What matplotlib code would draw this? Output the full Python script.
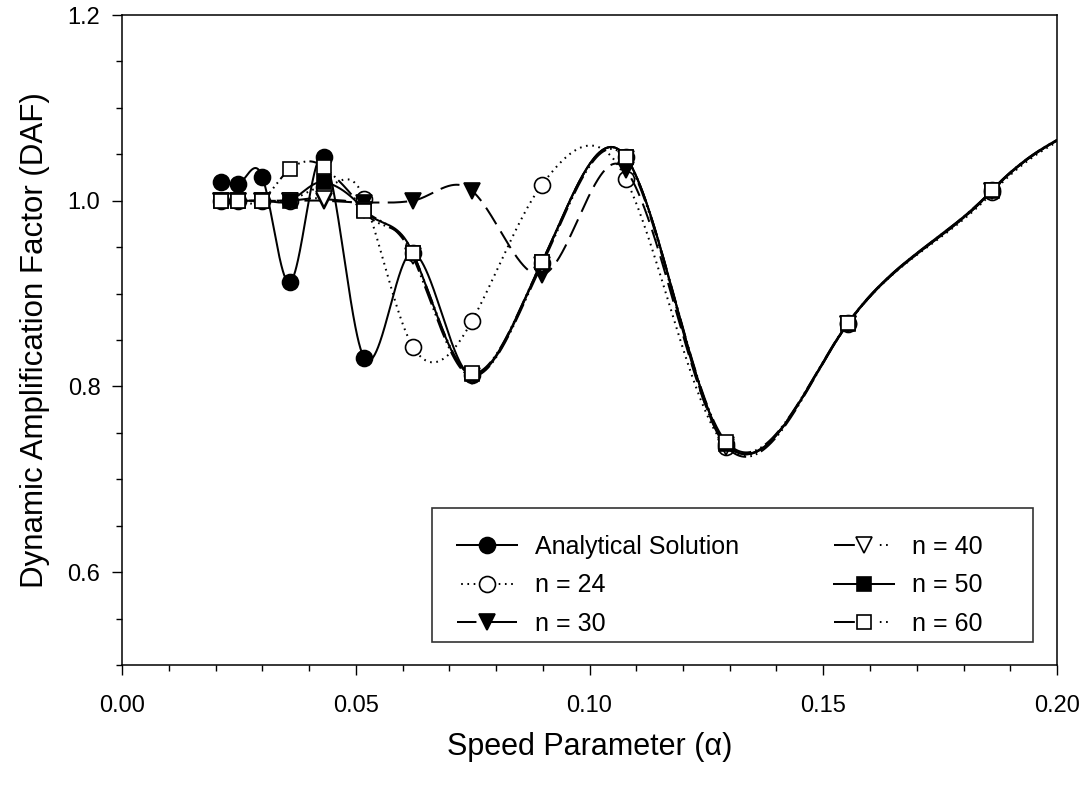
import numpy as np
import matplotlib
matplotlib.use("Agg")
import matplotlib.pyplot as plt
from matplotlib.lines import Line2D
from matplotlib.patches import Rectangle
from matplotlib.ticker import FixedLocator, MultipleLocator, FormatStrFormatter

plt.rcParams['font.family'] = ['Liberation Sans', 'DejaVu Sans']
plt.rcParams['lines.scale_dashes'] = False

# Speed parameter values (last one lies just beyond the plotted range)
alpha = [0.0212, 0.0248, 0.0300, 0.0359, 0.0432, 0.0518, 0.0622,
         0.0748, 0.0898, 0.1078, 0.1293, 0.1552, 0.1862, 0.2234]

# Dynamic amplification factor for each solution
daf_analytical = [1.020, 1.018, 1.026, 0.912, 1.047, 0.831, 0.944,
                  0.812, 0.933, 1.047, 0.738, 0.868, 1.012, 1.120]
daf_n24 = [1.000, 1.000, 1.000, 1.000, 1.015, 1.002, 0.843,
           0.870, 1.017, 1.023, 0.735, 0.867, 1.009, 1.120]
daf_n30 = [1.000, 1.000, 1.000, 1.000, 1.000, 0.998, 1.000,
           1.011, 0.920, 1.033, 0.737, 0.867, 1.011, 1.120]
daf_n40 = [1.000, 1.000, 1.000, 1.000, 1.002, 0.990, 0.940,
           0.811, 0.931, 1.045, 0.735, 0.867, 1.011, 1.120]
daf_n50 = [1.000, 1.000, 1.000, 1.000, 1.020, 0.990, 0.944,
           0.813, 0.934, 1.047, 0.738, 0.867, 1.011, 1.120]
daf_n60 = [1.000, 1.000, 1.000, 1.034, 1.036, 0.989, 0.944,
           0.814, 0.934, 1.047, 0.740, 0.868, 1.012, 1.120]

labels = ["Analytical Solution", "n = 24", "n = 30", "n = 40", "n = 50", "n = 60"]


def smooth_curve(x, y, xs, tension=1.45):
    """Cubic Hermite curve through the points (cardinal-style tangents)."""
    x = np.asarray(x, float)
    y = np.asarray(y, float)
    n = len(x)
    m = np.empty(n)
    m[1:-1] = tension * (y[2:] - y[:-2]) / (x[2:] - x[:-2])
    m[0] = (y[1] - y[0]) / (x[1] - x[0])
    m[-1] = (y[-1] - y[-2]) / (x[-1] - x[-2])
    i = np.clip(np.searchsorted(x, xs) - 1, 0, n - 2)
    h = x[i + 1] - x[i]
    t = (xs - x[i]) / h
    h00 = 2 * t ** 3 - 3 * t ** 2 + 1
    h10 = t ** 3 - 2 * t ** 2 + t
    h01 = -2 * t ** 3 + 3 * t ** 2
    h11 = t ** 3 - t ** 2
    return h00 * y[i] + h10 * h * m[i] + h01 * y[i + 1] + h11 * h * m[i + 1]


fig = plt.figure(figsize=(10.91, 7.88), dpi=100)
ax = fig.add_axes([122 / 1091, 1 - 665 / 788, 935 / 1091, 650 / 788])
ax.set_xlim(0.0, 0.2)
ax.set_ylim(0.5, 1.2)

dotted = (0, (1.2, 3.3))
longdash = (0, (14, 6))
dashdotdot = (0, (14, 3, 1.2, 3, 1.2, 3))
leg_dashdotdot = (0, (15, 18, 1.2, 3.3, 1.2, 20))
styles = [
    dict(ls='-', leg='-', marker='o', mfc='black', ms=11.5),
    dict(ls=dotted, leg=(1.5, (1.2, 3.3)), marker='o', mfc='white', ms=11.5),
    dict(ls=longdash, leg=(0, (14, 6, 40, 10)), marker='v', mfc='black', ms=11.5),
    dict(ls=dashdotdot, leg=leg_dashdotdot, marker='v', mfc='white', ms=11.5),
    dict(ls='-', leg='-', marker='s', mfc='black', ms=10.5),
    dict(ls=dashdotdot, leg=leg_dashdotdot, marker='s', mfc='white', ms=10.5),
]
series = [daf_analytical, daf_n24, daf_n30, daf_n40, daf_n50, daf_n60]

xs = np.linspace(alpha[0], alpha[-1], 3000)
handles = []
for k, (vals, st, lab) in enumerate(zip(series, styles, labels)):
    ax.plot(xs, smooth_curve(alpha, vals, xs), color='black', lw=1.45,
            ls=st['ls'], zorder=2 + 2 * k)
    ax.plot(alpha, vals, ls='none', marker=st['marker'], mfc=st['mfc'],
            mec='black', mew=1.2, ms=st['ms'], zorder=3 + 2 * k)
    handles.append(Line2D([], [], color='black', lw=1.45, ls=st['leg'],
                          marker=st['marker'], mfc=st['mfc'], mec='black',
                          mew=1.2, ms=st['ms'], label=lab))

ax.xaxis.set_major_locator(MultipleLocator(0.05))
ax.xaxis.set_minor_locator(MultipleLocator(0.01))
ax.xaxis.set_major_formatter(FormatStrFormatter('%.2f'))
ax.yaxis.set_major_locator(FixedLocator([0.6, 0.8, 1.0, 1.2]))
ax.yaxis.set_minor_locator(MultipleLocator(0.05))
ax.yaxis.set_major_formatter(FormatStrFormatter('%.1f'))

ax.tick_params(which='both', direction='out', width=1.0, labelsize=17,
               top=False, right=False)
ax.tick_params(which='major', length=7.5)
ax.tick_params(which='minor', length=4.2)
ax.tick_params(axis='x', which='major', pad=14)
ax.tick_params(axis='y', which='major', pad=8)
for sp in ax.spines.values():
    sp.set_linewidth(1.1)

ax.set_xlabel("Speed Parameter (α)", fontsize=22, labelpad=11)
ax.set_ylabel("Dynamic Amplification Factor (DAF)", fontsize=22.5, labelpad=13)

# Legend: framed box holding two columns of entries
box = Rectangle(((432 - 122) / 935, (665 - 642) / 650), (1033 - 432) / 935,
                (642 - 508) / 650, transform=ax.transAxes, facecolor='white',
                edgecolor='#333333', lw=1.2, zorder=19)
ax.add_patch(box)
leg_kw = dict(loc='upper left', frameon=False, fontsize=18, handlelength=2.4,
              handletextpad=0.72, labelspacing=0.58, borderpad=0.0,
              borderaxespad=0.0)
leg_top = (665 - 535) / 650
leg1 = ax.legend(handles=handles[:3], bbox_to_anchor=((457 - 122) / 935, leg_top),
                 **leg_kw)
leg1.set_zorder(20)
ax.add_artist(leg1)
leg2 = ax.legend(handles=handles[3:], bbox_to_anchor=((834 - 122) / 935, leg_top),
                 **leg_kw)
leg2.set_zorder(20)

fig.savefig("out.png", dpi=100)
